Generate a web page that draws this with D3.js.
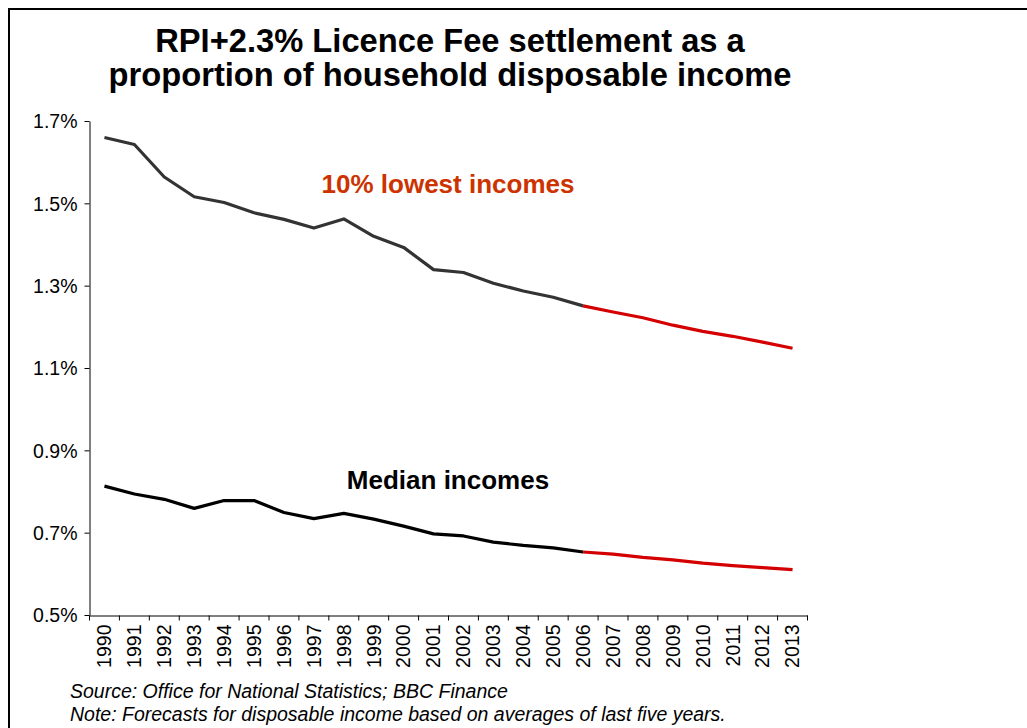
<!DOCTYPE html>
<html>
<head>
<meta charset="utf-8">
<script src="https://cdn.jsdelivr.net/npm/d3@7"></script>
<style>
  body { margin: 0; background: #fff; }
  text { font-family: "Liberation Sans", Arial, sans-serif; }
</style>
</head>
<body>
<div id="chart"></div>
<script>
// Chart data
const years = ["1990","1991","1992","1993","1994","1995","1996","1997","1998","1999","2000","2001",
  "2002","2003","2004","2005","2006","2007","2008","2009","2010","2011","2012","2013"];
const lowestIncomes = [1.660,1.643,1.564,1.516,1.502,1.477,1.461,1.440,1.462,1.420,1.393,1.339,
  1.332,1.306,1.287,1.272,1.251,1.236,1.222,1.204,1.189,1.177,1.163,1.148];
const medianIncomes = [0.813,0.794,0.781,0.759,0.778,0.778,0.749,0.734,0.747,0.733,0.716,0.697,
  0.692,0.677,0.669,0.663,0.653,0.648,0.640,0.634,0.626,0.620,0.615,0.610];
const forecastFrom = "2006";
const yTicks = [0.5, 0.7, 0.9, 1.1, 1.3, 1.5, 1.7];
const titleLines = ["RPI+2.3% Licence Fee settlement as a", "proportion of household disposable income"];
const notes = ["Source: Office for National Statistics; BBC Finance",
  "Note: Forecasts for disposable income based on averages of last five years."];

const W = 1027, H = 728;
const svg = d3.select("#chart").append("svg").attr("width", W).attr("height", H);

// Frame (top and left edges)
svg.append("path")
  .attr("d", `M9,${H} V9 H${W}`)
  .attr("fill", "none").attr("stroke", "#000").attr("stroke-width", 2);

// Title
svg.append("g").selectAll("text").data(titleLines).join("text")
  .attr("x", 450).attr("y", (d, i) => 52 + i * 34)
  .attr("text-anchor", "middle")
  .attr("font-size", 32.7).attr("font-weight", "bold")
  .text(d => d);

// Scales
const x = d3.scaleBand().domain(years).range([89.5, 807.5]).padding(0);
const y = d3.scaleLinear().domain([0.5, 1.7]).range([615, 121]);
const cx = d => x(d) + x.bandwidth() / 2;

// Y axis
const yAxis = svg.append("g").attr("transform", "translate(89.5,0)")
  .call(d3.axisLeft(y).tickValues(yTicks).tickSize(5).tickSizeOuter(0)
    .tickFormat(d => d3.format(".1f")(d) + "%"));
yAxis.select(".domain").attr("stroke", "#000");
yAxis.selectAll("text").attr("font-size", 19.5).attr("font-family", "Liberation Sans, Arial, sans-serif")
  .attr("fill", "#000").attr("x", -12).attr("dy", "0.35em");

// X axis with ticks at category boundaries
const xAxis = svg.append("g").attr("transform", "translate(0,615.5)")
  .call(d3.axisBottom(x).tickSize(0).tickSizeOuter(0));
xAxis.select(".domain").attr("stroke", "#000");
xAxis.selectAll(".tick text")
  .attr("font-size", 19.5).attr("font-family", "Liberation Sans, Arial, sans-serif").attr("fill", "#000")
  .attr("transform", "rotate(-90)")
  .attr("text-anchor", "end")
  .attr("x", -9).attr("y", 0).attr("dy", "0.35em");
xAxis.selectAll("line.bound")
  .data(years.map(d => x(d)).concat([x.range()[1]]))
  .join("line").attr("class", "bound")
  .attr("x1", d => d).attr("x2", d => d)
  .attr("y1", 0).attr("y2", 5).attr("stroke", "#000");

// Lines
const line = d3.line().x(d => cx(d.year)).y(d => y(d.value));
const fi = years.indexOf(forecastFrom);
function drawSeries(values, color) {
  const pts = years.map((yr, i) => ({ year: yr, value: values[i] }));
  svg.append("path").datum(pts.slice(0, fi + 1))
    .attr("fill", "none").attr("stroke", color).attr("stroke-width", 3.2)
    .attr("stroke-linejoin", "round").attr("d", line);
  svg.append("path").datum(pts.slice(fi))
    .attr("fill", "none").attr("stroke", "#d40000").attr("stroke-width", 3.2)
    .attr("stroke-linejoin", "round").attr("d", line);
}
drawSeries(lowestIncomes, "#333333");
drawSeries(medianIncomes, "#000000");

// Series labels
svg.append("text").attr("x", 448).attr("y", 193).attr("text-anchor", "middle")
  .attr("font-size", 26).attr("font-weight", "bold").attr("fill", "#cc3300")
  .text("10% lowest incomes");
svg.append("text").attr("x", 448).attr("y", 489).attr("text-anchor", "middle")
  .attr("font-size", 26).attr("font-weight", "bold").attr("fill", "#000")
  .text("Median incomes");

// Footnotes
svg.append("g").selectAll("text").data(notes).join("text")
  .attr("x", 70).attr("y", (d, i) => 698 + i * 23)
  .attr("font-size", 19.5).attr("font-style", "italic")
  .text(d => d);
</script>
</body>
</html>
